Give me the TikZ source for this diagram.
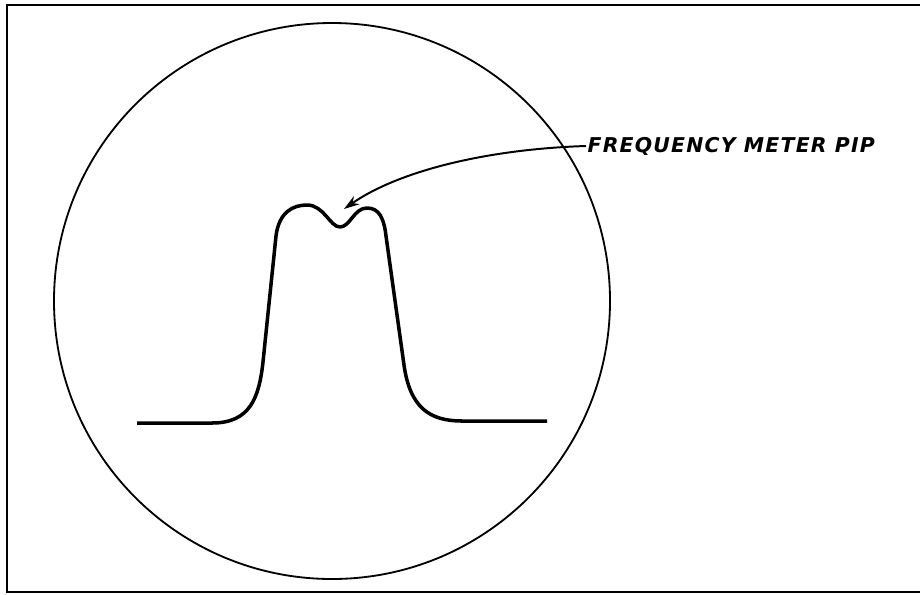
\documentclass[tikz,border=0pt]{standalone}
\usepackage{fontspec}
\newfontfamily\leroy{DejaVu Sans}[LetterSpace=6]
\usepackage{tikz}
\usetikzlibrary{arrows.meta}

\begin{document}
\begin{tikzpicture}[x=0.025cm, y=-0.025cm, >=Stealth]
  \useasboundingbox (0,0) rectangle (920,594);
  \clip (0,0) rectangle (920,594);

  % frame and scope face
  \draw[line width=2pt] (7,5) rectangle (930,592);
  \draw[line width=1.3pt] (332,301) circle (278);

  % swept response with the marker dip
  \draw[line width=2.5pt, line join=round] (137,423) -- (212,423)
    .. controls (250,423) and (259,398) .. (263,362)
    -- (276,236)
    .. controls (279,212) and (293,205) .. (307,205)
    .. controls (324,205) and (330,227) .. (340,227)
    .. controls (350,227) and (354,208) .. (367,208)
    .. controls (379,208) and (384,218) .. (386,236)
    -- (404,365)
    .. controls (410,408) and (430,421) .. (462,421)
    -- (547,421);

  % label
  \node[anchor=west, inner sep=1pt, font=\leroy\bfseries\itshape\fontsize{14.5}{17}\selectfont]
    (pip) at (586,146) {FREQUENCY METER PIP};
  \coordinate (dip) at (344,209);
  \draw[->, line width=1.4pt, >={Stealth[length=11pt, width=7pt]}]
    (pip.west) .. controls (490,149) and (400,170) .. (dip);

\end{tikzpicture}
\end{document}
